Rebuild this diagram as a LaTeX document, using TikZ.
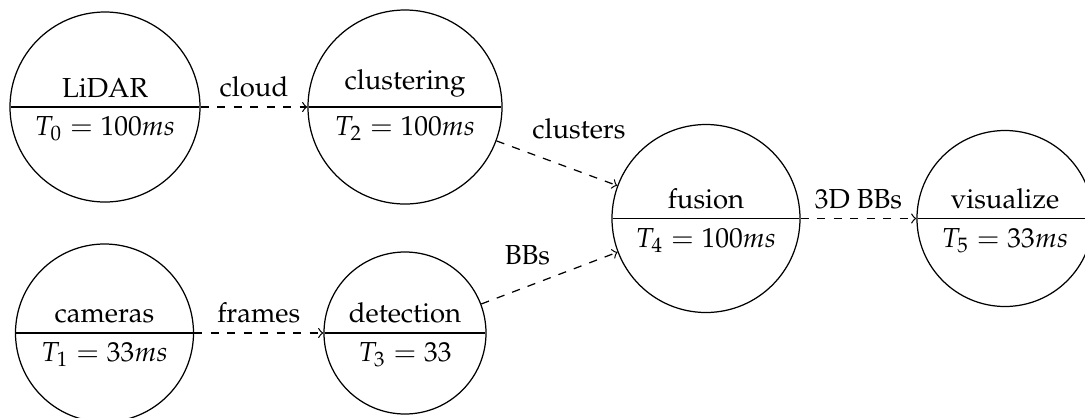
\documentclass[tikz,border=0pt]{standalone}
\usepackage[T1]{fontenc}
\usepackage{mathpazo}
\usetikzlibrary{shapes.multipart,arrows}
\newcommand\pxu{0.363636pt}
\tikzset{
  proc/.style={circle split, draw, line width=0.45pt, inner sep=0.333em, font=\normalsize},
  flow/.style={->, dashed, line width=0.45pt},
}
\begin{document}
\begin{tikzpicture}[x=0.363636pt, y=-0.363636pt]
\useasboundingbox (0,0) rectangle (1085,417);
\node[proc, minimum size={190*\pxu}] (lidar) at (105,107) {LiDAR \nodepart{lower} $T_0 = 100ms$};
\node[proc, minimum size={194*\pxu}] (clust) at (405,107) {clustering \nodepart{lower} $T_2 = 100ms$};
\node[proc, minimum size={188*\pxu}] (fusion) at (706,218.5) {fusion \nodepart{lower} $T_4 = 100ms$};
\node[proc, minimum size={176*\pxu}] (vis) at (1005,218.5) {visualize \nodepart{lower} $T_5 = 33ms$};
\node[proc, minimum size={178*\pxu}] (cam) at (104.5,333) {cameras \nodepart{lower} $T_1 = 33ms$};
\node[proc, minimum size={162*\pxu}] (det) at (405,333) {detection \nodepart{lower} $T_3 = 33$};
\draw[flow] (lidar) -- node[above] (lcloud) {cloud} (clust);
\draw[flow] (cam) -- node[above] (lframes) {frames} (det);
\draw[flow] (clust) -- node[midway, xshift={22*\pxu}, yshift={34*\pxu}] (lclusters) {clusters} (fusion);
\draw[flow] (det) -- node[midway, xshift={-22*\pxu}, yshift={23*\pxu}] (lbbs) {BBs} (fusion);
\draw[flow] (fusion) -- node[above] (l3d) {3D BBs} (vis);
\end{tikzpicture}
\end{document}
